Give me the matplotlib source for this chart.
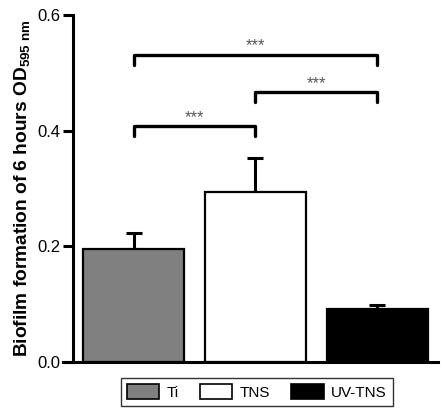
import matplotlib

matplotlib.use("Agg")
import matplotlib.pyplot as plt
from matplotlib.patches import Patch

groups = ["Ti", "TNS", "UV-TNS"]
means = [0.195, 0.294, 0.092]
errors = [0.028, 0.058, 0.007]
colors = ["#808080", "#ffffff", "#000000"]

# significance brackets: (left group, right group, height, label)
brackets = [(0, 2, 0.531, "***"), (1, 2, 0.467, "***"), (0, 1, 0.408, "***")]

plt.rcParams["font.family"] = ["Liberation Sans", "DejaVu Sans"]
plt.rcParams["mathtext.default"] = "regular"

fig = plt.figure(figsize=(4.42, 4.12), dpi=100)
ax = fig.add_axes([0.165, 0.121, 0.826, 0.843])

x = range(len(groups))
ax.bar(x, means, width=0.83, color=colors, edgecolor="black", linewidth=1.6, zorder=2)
ax.errorbar(x, [m + e / 2 for m, e in zip(means, errors)], yerr=[[e / 2 for e in errors], [e / 2 for e in errors]],
            fmt="none", ecolor="black", elinewidth=2.2, capsize=5.5, capthick=2.2, zorder=1)

drop = 0.018
for a, b, h, lab in brackets:
    ax.plot([a, a, b, b], [h - drop, h, h, h - drop], color="black", lw=2.4,
            solid_capstyle="round", solid_joinstyle="round", clip_on=False)
    ax.text((a + b) / 2, h + 0.002, lab, ha="center", va="bottom", fontsize=12, color="#555555")

ax.set_xlim(-0.5, 2.5)
ax.set_ylim(0, 0.6)
ax.set_yticks([0.0, 0.2, 0.4, 0.6])
ax.set_yticklabels(["0.0", "0.2", "0.4", "0.6"])
ax.set_xticks([])
for s in ["top", "right"]:
    ax.spines[s].set_visible(False)
for s in ["left", "bottom"]:
    ax.spines[s].set_linewidth(2.2)
ax.spines["bottom"].set_bounds(-0.58, 2.5)
ax.tick_params(axis="y", length=7, width=2.2, labelsize=12, pad=2)
ax.set_ylabel(r"Biofilm formation of 6 hours OD$_{595\ nm}$", fontsize=13.8, fontweight="bold", labelpad=4)

handles = [Patch(facecolor=c, edgecolor="black", linewidth=1.2) for c in colors]
fig.legend(handles, groups, loc="center", bbox_to_anchor=(0.581, 0.0485), ncol=3, frameon=True,
           fancybox=False, edgecolor="black", fontsize=11, handlelength=2.1, handleheight=1.15,
           columnspacing=1.4, handletextpad=0.5, borderpad=0.4)

fig.savefig("out.png", dpi=100)
